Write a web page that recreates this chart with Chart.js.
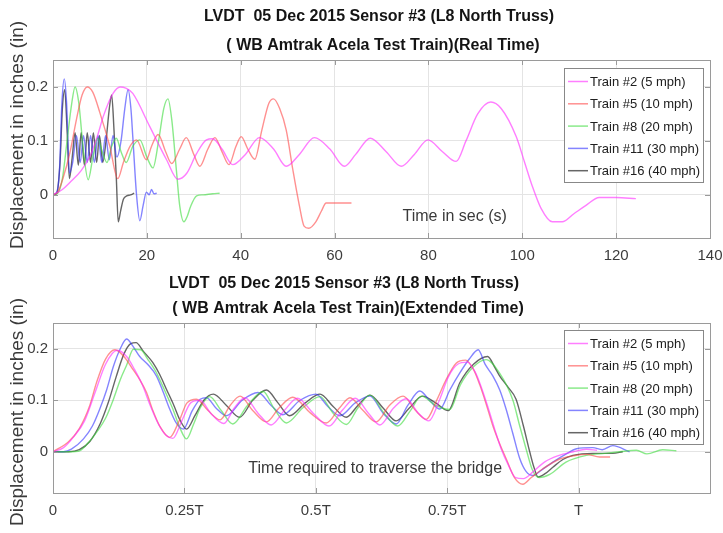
<!DOCTYPE html>
<html>
<head>
<meta charset="utf-8">
<script src="https://cdn.jsdelivr.net/npm/chart.js@4.4.0/dist/chart.umd.min.js"></script>
<style>
  html, body { margin: 0; padding: 0; background: #fff; }
  .panel { position: absolute; left: 0; width: 723px; }
</style>
</head>
<body>
<div class="panel" style="top:0"><canvas id="realChart" width="723" height="266"></canvas></div>
<div class="panel" style="top:266px"><canvas id="extChart" width="723" height="267"></canvas></div>
<script>
const trainLabels = ["Train #2 (5 mph)", "Train #5 (10 mph)", "Train #8 (20 mph)", "Train #11 (30 mph)", "Train #16 (40 mph)"];
const trainColors = ["rgba(255,40,255,0.6)", "rgba(255,70,70,0.6)", "rgba(60,220,60,0.6)", "rgba(50,50,255,0.6)", "rgba(20,20,20,0.65)"];

const realXTicks = [0, 20, 40, 60, 80, 100, 120, 140];
const extXTicks = [0, 0.25, 0.5, 0.75, 1];
const extXTickLabels = ["0", "0.25T", "0.5T", "0.75T", "T"];
const yTicks = [0, 0.1, 0.2];
const yTickLabels = ["0", "0.1", "0.2"];

// real time, [seconds, inches]
const real5mph = [[0,0],[2,0.01],[3.6,0.023],[6,0.045],[7.9,0.072],[9.5,0.11],[10.7,0.145],[12.8,0.188],[14.3,0.2],[15.5,0.198],[17,0.188],[20.6,0.127],[24.2,0.065],[26.6,0.029],[28.5,0.04],[30.5,0.075],[32.7,0.102],[34,0.104],[36,0.085],[38.3,0.056],[41,0.075],[44,0.106],[47,0.085],[49.7,0.053],[52.5,0.075],[55.7,0.106],[59,0.085],[62.1,0.053],[64.5,0.075],[67.6,0.105],[71,0.08],[74.2,0.053],[77,0.075],[79.9,0.102],[83,0.08],[85.9,0.062],[88,0.1],[90.5,0.15],[93.3,0.172],[95.5,0.16],[98.7,0.108],[100.5,0.06],[102.1,0.017],[104,-0.025],[106.4,-0.05],[108.5,-0.05],[111,-0.035],[113.5,-0.02],[116.4,-0.005],[120,-0.005],[124.2,-0.007]];
const real10mph = [[0,0],[1,0.005],[2.1,0.03],[3.6,0.078],[5,0.14],[6.2,0.185],[7.3,0.2],[8.5,0.19],[10,0.152],[12.1,0.09],[13.8,0.03],[15,0.06],[16.4,0.09],[17.8,0.102],[19.9,0.065],[21,0.09],[22.4,0.112],[24,0.08],[25.3,0.058],[27,0.085],[28.4,0.106],[30,0.075],[31.3,0.053],[33,0.085],[34.5,0.106],[36,0.08],[37.5,0.056],[39,0.09],[40.1,0.108],[41.5,0.085],[43,0.066],[44.5,0.12],[46,0.17],[47,0.178],[48.3,0.16],[49.7,0.12],[51.1,0.047],[52.5,-0.02],[53.5,-0.058],[54.5,-0.062],[56,-0.05],[57.2,-0.03],[58.2,-0.015],[60.4,-0.015],[63.6,-0.015]];
const real20mph = [[0,0],[1,0.003],[2,0.03],[3,0.1],[4,0.17],[4.7,0.2],[5.5,0.17],[6.5,0.08],[7.5,0.028],[8.5,0.07],[9.5,0.105],[10.5,0.08],[11.5,0.06],[12.5,0.09],[13.5,0.105],[14.5,0.08],[15.6,0.06],[17,0.09],[18.5,0.102],[20,0.07],[21.3,0.05],[22.5,0.1],[23.6,0.16],[24.5,0.178],[25.3,0.14],[26.3,0.045],[27,-0.02],[27.9,-0.05],[28.6,-0.04],[29.3,-0.022],[30.6,-0.002],[32,0],[34,0.002],[35.5,0.003]];
const real30mph = [[0,0],[0.8,0.005],[1.4,0.05],[1.9,0.17],[2.4,0.215],[2.9,0.17],[3.5,0.04],[4.2,0.06],[5,0.11],[5.8,0.06],[6.5,0.11],[7.3,0.06],[8,0.11],[8.8,0.06],[9.6,0.11],[10.4,0.06],[11.2,0.11],[12,0.065],[12.8,0.11],[13.6,0.07],[14.5,0.1],[15.3,0.16],[16,0.195],[16.6,0.16],[17,0.108],[17.8,0],[18.5,-0.048],[19.2,-0.02],[19.9,0.005],[20.5,0],[21,0.01],[21.5,0.002],[22.1,0.003]];
const real40mph = [[0,0],[0.8,0.003],[1.5,0.06],[2,0.16],[2.5,0.195],[3,0.12],[3.5,0.03],[4.1,0.07],[4.7,0.115],[5.4,0.055],[6,0.115],[6.7,0.055],[7.3,0.115],[8,0.06],[8.6,0.115],[9.3,0.06],[9.9,0.11],[10.6,0.06],[11.3,0.1],[12,0.16],[12.5,0.185],[13,0.12],[13.5,0.03],[13.9,-0.05],[14.4,-0.03],[15,-0.008],[15.7,-0.002],[16.5,0],[17.3,0.003]];

// extended time, [fraction of T, inches]
const ext5mph = [[0,0],[0.02,0.008],[0.04,0.03],[0.06,0.06],[0.08,0.115],[0.1,0.17],[0.122,0.197],[0.14,0.185],[0.155,0.16],[0.17,0.13],[0.185,0.09],[0.2,0.055],[0.215,0.032],[0.228,0.026],[0.245,0.06],[0.262,0.095],[0.28,0.1],[0.3,0.075],[0.325,0.055],[0.345,0.085],[0.365,0.105],[0.39,0.075],[0.415,0.052],[0.44,0.08],[0.465,0.104],[0.495,0.075],[0.525,0.05],[0.55,0.08],[0.575,0.104],[0.6,0.075],[0.622,0.052],[0.648,0.085],[0.672,0.103],[0.695,0.075],[0.715,0.06],[0.735,0.1],[0.752,0.145],[0.77,0.17],[0.788,0.174],[0.803,0.155],[0.815,0.125],[0.828,0.085],[0.84,0.045],[0.853,0.005],[0.866,-0.025],[0.88,-0.05],[0.895,-0.052],[0.912,-0.04],[0.935,-0.02],[0.96,-0.008],[0.99,0],[1.015,0.005],[1.035,0.003]];
const ext10mph = [[0,0],[0.03,0.02],[0.05,0.045],[0.07,0.09],[0.083,0.135],[0.1,0.18],[0.118,0.198],[0.135,0.185],[0.152,0.16],[0.165,0.14],[0.178,0.115],[0.19,0.08],[0.203,0.05],[0.222,0.028],[0.24,0.06],[0.255,0.095],[0.273,0.102],[0.295,0.08],[0.318,0.062],[0.337,0.09],[0.356,0.108],[0.38,0.08],[0.406,0.058],[0.43,0.085],[0.456,0.106],[0.49,0.075],[0.52,0.056],[0.545,0.085],[0.565,0.105],[0.59,0.08],[0.615,0.058],[0.64,0.09],[0.666,0.108],[0.69,0.08],[0.71,0.063],[0.73,0.1],[0.748,0.14],[0.767,0.172],[0.785,0.178],[0.8,0.16],[0.812,0.13],[0.825,0.09],[0.837,0.05],[0.85,0.015],[0.862,-0.013],[0.878,-0.05],[0.894,-0.063],[0.91,-0.05],[0.932,-0.033],[0.964,-0.014],[0.99,-0.008],[1.015,-0.005],[1.04,-0.01],[1.06,-0.01]];
const ext20mph = [[0,0],[0.02,0],[0.048,0.001],[0.065,0.015],[0.083,0.038],[0.1,0.065],[0.115,0.102],[0.128,0.14],[0.14,0.168],[0.153,0.199],[0.167,0.198],[0.18,0.18],[0.197,0.153],[0.212,0.12],[0.228,0.083],[0.242,0.045],[0.254,0.025],[0.268,0.055],[0.28,0.085],[0.298,0.107],[0.32,0.08],[0.342,0.054],[0.37,0.09],[0.4,0.117],[0.42,0.085],[0.444,0.056],[0.475,0.085],[0.508,0.107],[0.533,0.075],[0.558,0.053],[0.58,0.085],[0.603,0.11],[0.63,0.075],[0.656,0.05],[0.68,0.08],[0.701,0.108],[0.728,0.09],[0.755,0.082],[0.775,0.13],[0.8,0.165],[0.824,0.179],[0.85,0.152],[0.875,0.1],[0.888,0.05],[0.9,0.006],[0.912,-0.035],[0.925,-0.05],[0.945,-0.044],[0.976,-0.02],[1.015,-0.007],[1.05,-0.003],[1.078,0],[1.11,0.003],[1.13,-0.004],[1.16,0.004],[1.186,0.002]];
const ext30mph = [[0,0],[0.02,0],[0.035,0.005],[0.058,0.025],[0.075,0.05],[0.089,0.083],[0.102,0.12],[0.115,0.166],[0.128,0.2],[0.14,0.219],[0.152,0.205],[0.165,0.185],[0.18,0.17],[0.197,0.147],[0.21,0.115],[0.222,0.083],[0.235,0.055],[0.248,0.044],[0.265,0.08],[0.28,0.102],[0.292,0.105],[0.31,0.085],[0.33,0.07],[0.36,0.1],[0.39,0.115],[0.415,0.09],[0.437,0.072],[0.47,0.1],[0.5,0.112],[0.523,0.088],[0.546,0.07],[0.575,0.095],[0.603,0.108],[0.628,0.075],[0.653,0.054],[0.675,0.09],[0.698,0.118],[0.718,0.098],[0.736,0.083],[0.755,0.12],[0.774,0.153],[0.792,0.18],[0.809,0.198],[0.822,0.17],[0.837,0.147],[0.85,0.12],[0.862,0.083],[0.875,0.035],[0.888,-0.013],[0.9,-0.038],[0.913,-0.046],[0.93,-0.035],[0.951,-0.02],[0.975,-0.005],[0.996,0.006],[1.027,0.008],[1.045,0.004],[1.065,0.012],[1.097,0]];
const ext40mph = [[0,0],[0.03,0],[0.05,0.004],[0.07,0.02],[0.09,0.055],[0.105,0.095],[0.12,0.145],[0.135,0.19],[0.148,0.21],[0.158,0.212],[0.172,0.195],[0.19,0.173],[0.203,0.15],[0.216,0.121],[0.23,0.09],[0.241,0.063],[0.254,0.044],[0.27,0.07],[0.287,0.1],[0.305,0.112],[0.33,0.09],[0.355,0.067],[0.38,0.1],[0.406,0.12],[0.428,0.095],[0.45,0.07],[0.48,0.095],[0.508,0.112],[0.533,0.088],[0.558,0.067],[0.58,0.09],[0.603,0.11],[0.628,0.085],[0.653,0.06],[0.678,0.085],[0.703,0.108],[0.728,0.095],[0.752,0.08],[0.774,0.134],[0.8,0.17],[0.827,0.185],[0.84,0.165],[0.85,0.147],[0.866,0.125],[0.881,0.102],[0.895,0.05],[0.907,0],[0.915,-0.03],[0.923,-0.049],[0.937,-0.042],[0.951,-0.03],[0.97,-0.015],[0.989,-0.007],[1.027,-0.003],[1.065,-0.003],[1.084,0]];

const FONT = "Arial, 'Liberation Sans', Helvetica, sans-serif";
const BOX = "#9a9a9a";

const toDatasets = (series) =>
  series.map((pts, i) => ({
    label: trainLabels[i],
    data: pts.map(([x, y]) => ({ x, y })),
    borderColor: trainColors[i],
  }));

// MATLAB-style box, inward ticks, titles, axis label, note and legend
const matlabPlugin = {
  id: "matlab",
  afterDraw(chart, args, opts) {
    const { ctx, chartArea: a, scales } = chart;
    const sx = scales.x, sy = scales.y;
    ctx.save();
    ctx.strokeStyle = BOX;
    ctx.lineWidth = 1;
    ctx.strokeRect(Math.round(a.left) + 0.5, Math.round(a.top) + 0.5, Math.round(a.right - a.left), Math.round(a.bottom - a.top));

    ctx.beginPath();
    sx.ticks.forEach((t) => {
      const px = Math.round(sx.getPixelForValue(t.value)) + 0.5;
      ctx.moveTo(px, a.bottom); ctx.lineTo(px, a.bottom - 5);
      ctx.moveTo(px, a.top); ctx.lineTo(px, a.top + 5);
    });
    sy.ticks.forEach((t) => {
      const py = Math.round(sy.getPixelForValue(t.value)) + 0.5;
      ctx.moveTo(a.left, py); ctx.lineTo(a.left + 5, py);
      ctx.moveTo(a.right, py); ctx.lineTo(a.right - 5, py);
    });
    ctx.stroke();

    ctx.fillStyle = "#141414";
    ctx.textAlign = "center";
    ctx.textBaseline = "middle";
    ctx.font = "bold 16px " + FONT;
    opts.titles.forEach((t) => ctx.fillText(t.text, t.x, t.y));

    ctx.fillStyle = "#3a3a3a";
    ctx.font = "16px " + FONT;
    ctx.fillText(opts.note.text, sx.getPixelForValue(opts.note.x), sy.getPixelForValue(opts.note.y));

    ctx.save();
    ctx.translate(opts.yLabel.x, opts.yLabel.y);
    ctx.rotate(-Math.PI / 2);
    ctx.font = "19px " + FONT;
    ctx.fillText("Displacement in inches (in)", 0, 0);
    ctx.restore();

    // legend
    const lw = 139, lh = 114;
    const lx = a.right - 7 - lw, ly = a.top + opts.legendTop;
    ctx.fillStyle = "#fff";
    ctx.fillRect(lx, ly, lw, lh);
    ctx.strokeStyle = "#888";
    ctx.strokeRect(Math.round(lx) + 0.5, Math.round(ly) + 0.5, lw, lh);
    ctx.font = "13px " + FONT;
    ctx.textAlign = "left";
    chart.data.datasets.forEach((ds, i) => {
      const ry = ly + 13.5 + i * 22.3;
      ctx.strokeStyle = ds.borderColor;
      ctx.lineWidth = 1.5;
      ctx.beginPath();
      ctx.moveTo(lx + 4, ry); ctx.lineTo(lx + 24, ry);
      ctx.stroke();
      ctx.fillStyle = "#202020";
      ctx.fillText(ds.label, lx + 26, ry + 1);
    });
    ctx.restore();
  },
};

const makeChart = (id, series, xMin, xMax, xTicks, xLabel, xHeight, padTop, frame) =>
  new Chart(document.getElementById(id), {
    type: "line",
    data: { datasets: toDatasets(series) },
    plugins: [matlabPlugin],
    options: {
      responsive: false,
      animation: false,
      devicePixelRatio: 1,
      layout: { padding: { top: padTop, right: 13, left: 0, bottom: 0 } },
      elements: {
        line: { borderWidth: 1.4, cubicInterpolationMode: "monotone" },
        point: { radius: 0 },
      },
      plugins: { legend: { display: false }, tooltip: { enabled: false }, matlab: frame },
      scales: {
        x: {
          type: "linear",
          min: xMin,
          max: xMax,
          afterBuildTicks: (s) => { s.ticks = xTicks.map((v) => ({ value: v })); },
          afterFit: (s) => { s.height = xHeight; s.paddingLeft = 0; s.paddingRight = 0; },
          grid: { color: "#e4e4e4", drawTicks: false },
          border: { color: BOX },
          ticks: { padding: 9, color: "#3c3c3c", font: { size: 15, family: FONT }, autoSkip: false, maxRotation: 0, callback: (v, i) => xLabel(v, i) },
        },
        y: {
          min: -0.08,
          max: 0.25,
          afterBuildTicks: (s) => { s.ticks = yTicks.map((v) => ({ value: v })); },
          afterFit: (s) => { s.width = 53; s.paddingTop = 0; s.paddingBottom = 0; },
          grid: { color: "#e4e4e4", drawTicks: false },
          border: { color: BOX },
          ticks: { padding: 5, color: "#3c3c3c", font: { size: 15, family: FONT }, callback: (v, i) => yTickLabels[i] },
        },
      },
    },
  });

makeChart("realChart", [real5mph, real10mph, real20mph, real30mph, real40mph], 0, 140, realXTicks, (v) => String(v), 28, 60, {
  titles: [
    { text: "LVDT  05 Dec 2015 Sensor #3 (L8 North Truss)", x: 379, y: 17 },
    { text: "( WB Amtrak Acela Test Train)(Real Time)", x: 383, y: 46 },
  ],
  yLabel: { x: 18, y: 135 },
  note: { text: "Time in sec (s)", x: 85.6, y: -0.04 },
  legendTop: 8,
});

makeChart("extChart", [ext5mph, ext10mph, ext20mph, ext30mph, ext40mph], 0, 1.25, extXTicks, (v, i) => extXTickLabels[i], 40, 57, {
  titles: [
    { text: "LVDT  05 Dec 2015 Sensor #3 (L8 North Truss)", x: 344, y: 18 },
    { text: "( WB Amtrak Acela Test Train)(Extended Time)", x: 348, y: 43 },
  ],
  yLabel: { x: 18, y: 146 },
  note: { text: "Time required to traverse the bridge", x: 0.613, y: -0.033 },
  legendTop: 7,
});
</script>
</body>
</html>
